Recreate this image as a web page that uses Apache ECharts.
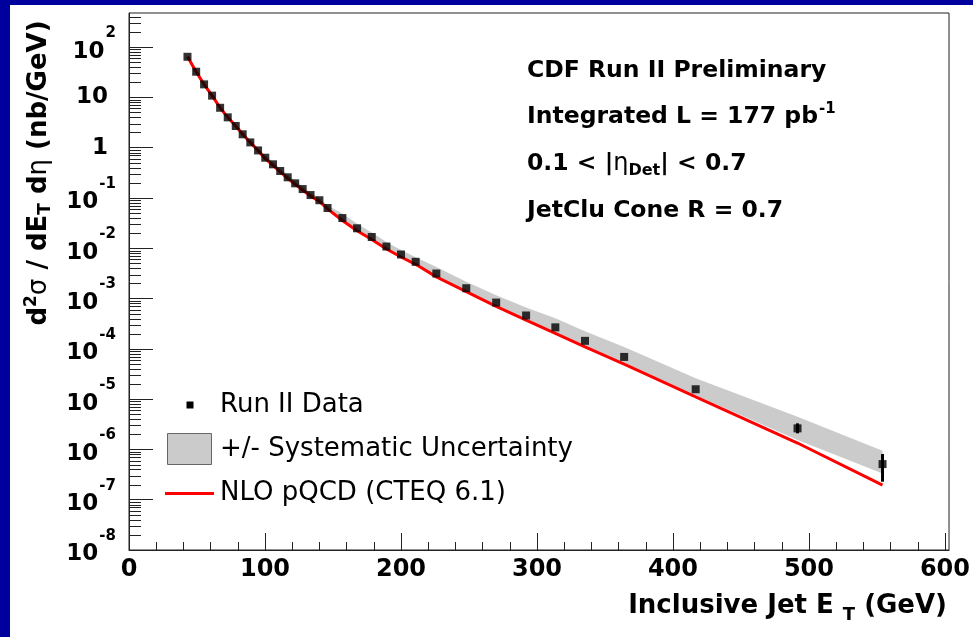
<!DOCTYPE html>
<html>
<head>
<meta charset="utf-8">
<script src="https://cdn.jsdelivr.net/npm/echarts@6/dist/echarts.min.js"></script>
<style>
  html, body { margin: 0; padding: 0; background: #fff; }
  #chart { position: absolute; left: 0; top: 0; width: 973px; height: 637px; }
  .band-top { position: absolute; left: 0; top: 0; width: 973px; height: 5px; background: #00009c; }
  .band-left { position: absolute; left: 0; top: 0; width: 10px; height: 637px; background: #00009c; }
</style>
</head>
<body>
<div id="chart"></div>
<div class="band-top"></div>
<div class="band-left"></div>
<script>
// jet E_T bin centres (GeV)
const jetEt = [43.0, 49.4, 55.2, 61.1, 67.0, 72.6, 78.5, 83.6, 89.2, 94.9,
  100.2, 105.9, 111.2, 116.7, 122.2, 127.7, 133.5, 140.0, 146.0, 156.9,
  167.7, 178.5, 189.3, 200.0, 210.8, 226.0, 248.0, 270.0, 292.0, 313.5,
  335.3, 364.1, 416.7, 491.6, 554.1]
// measured cross section (nb/GeV)
const dataXsec = [64, 32.3, 18.1, 10.8, 6.2, 4.0, 2.69, 1.84, 1.27, 0.88,
  0.63, 0.466, 0.343, 0.257, 0.195, 0.150, 0.114, 0.090, 0.063, 0.0398,
  0.0249, 0.0167, 0.0108, 0.0075, 0.00537, 0.00314, 0.00160, 8.3e-4, 4.6e-4, 2.67e-4,
  1.44e-4, 6.9e-5, 1.57e-5, 2.62e-6, 5.1e-7]
// NLO pQCD (CTEQ 6.1)
const nloXsec = [64, 32.3, 18.1, 10.8, 6.2, 4.0, 2.69, 1.84, 1.27, 0.88,
  0.602, 0.445, 0.328, 0.245, 0.186, 0.143, 0.109, 0.0855, 0.0605, 0.0355,
  0.0222, 0.0149, 0.00963, 0.00669, 0.00479, 0.00269, 0.00137, 7.0e-4, 3.71e-4, 2.03e-4,
  1.094e-4, 4.96e-5, 1.11e-5, 1.34e-6, 1.95e-7]
// systematic uncertainty band edges
const sysUp = [68.5, 34.6, 19.4, 11.6, 6.64, 4.28, 2.88, 1.97, 1.36, 0.942,
  0.706, 0.522, 0.385, 0.288, 0.219, 0.168, 0.128, 0.101, 0.0706, 0.0489,
  0.0306, 0.0205, 0.0133, 0.00922, 0.0066, 0.00425, 0.00216, 1.16e-3, 6.63e-4, 4.03e-4,
  2.24e-4, 1.09e-4, 2.60e-5, 4.46e-6, 9.38e-7]
const sysDown = [59.8, 30.2, 16.9, 10.1, 5.79, 3.73, 2.51, 1.72, 1.19, 0.822,
  0.588, 0.435, 0.320, 0.240, 0.182, 0.140, 0.106, 0.084, 0.0588, 0.0372,
  0.0232, 0.0156, 0.0101, 0.0070, 0.00501, 0.00286, 0.00146, 7.5e-4, 3.97e-4, 2.17e-4,
  1.17e-4, 5.32e-5, 1.19e-5, 1.53e-6, 3.33e-7]
// statistical error bars (only visible outside the marker at the last bins)
const statLow = [null, null, null, null, null, null, null, null, null, null,
  null, null, null, null, null, null, null, null, null, null,
  null, null, null, null, null, null, null, null, null, null,
  null, null, null, 2.09e-6, 2.28e-7]
const statHigh = [null, null, null, null, null, null, null, null, null, null,
  null, null, null, null, null, null, null, null, null, null,
  null, null, null, null, null, null, null, null, null, null,
  null, null, null, 3.3e-6, 8.1e-7]

const xMajorTicks = [0, 100, 200, 300, 400, 500, 600]
const yDecades = [-8, -7, -6, -5, -4, -3, -2, -1, 0, 1, 2]
const yMinorFactors = [2, 3, 4, 5, 6, 7, 8, 9]
const yTop = 475

const FONT = 'DejaVu Sans'
const lg = v => Math.log10(v)

// minor ticks: every 20 GeV, and 2..9 x 10^n on the log axis
const xMinorTicks = []
for (let v = 20; v < 603; v += 20) if (v % 100 !== 0) xMinorTicks.push(v)
const yMinorTicks = []
yDecades.forEach(d => {
  yMinorFactors.forEach(k => {
    const v = d + lg(k)
    if (v < lg(yTop)) yMinorTicks.push(v)
  })
})

const chart = echarts.init(document.getElementById('chart'))

const option = {
  animation: false,
  backgroundColor: '#fff',
  grid: {
    left: 129, right: 21, top: 13, bottom: 87,
    show: true, borderColor: '#222', borderWidth: 1, backgroundColor: 'transparent'
  },
  xAxis: [
    {
      type: 'value', min: 0, max: 603, position: 'bottom',
      axisLine: { show: true, onZero: false, lineStyle: { color: '#222', width: 1 } },
      axisTick: { show: true, inside: true, length: 17, customValues: xMajorTicks, lineStyle: { color: '#222' } },
      axisLabel: {
        customValues: xMajorTicks, margin: 8, color: '#000',
        fontFamily: FONT, fontWeight: 'bold', fontSize: 24, lineHeight: 24
      },
      splitLine: { show: false }
    },
    {
      type: 'value', min: 0, max: 603, position: 'bottom',
      axisLine: { show: false, onZero: false },
      axisTick: { show: true, inside: true, length: 8, customValues: xMinorTicks, lineStyle: { color: '#222' } },
      axisLabel: { show: false },
      splitLine: { show: false }
    }
  ],
  yAxis: {
    type: 'value', min: -8, max: lg(yTop), position: 'left',
    axisLine: { show: true, onZero: false, lineStyle: { color: '#222', width: 1 } },
    axisTick: { show: true, inside: true, length: 24, customValues: yDecades, lineStyle: { color: '#222' } },
    axisLabel: {
      customValues: yDecades, margin: 13, color: '#000',
      fontFamily: FONT, fontWeight: 'bold', fontSize: 23,
      formatter: v => {
        const e = Math.round(v)
        if (e === 0) return '{b|1}'
        if (e === 1) return '{b|10}'
        return '{e|10}{s|' + e + '}'
      },
      rich: {
        b: { fontFamily: FONT, fontWeight: 'bold', fontSize: 23, lineHeight: 23, padding: [0, 8, 0, 0] },
        e: { fontFamily: FONT, fontWeight: 'bold', fontSize: 23, lineHeight: 23, padding: [9, 0, 0, 0] },
        s: { fontFamily: FONT, fontWeight: 'bold', fontSize: 15, lineHeight: 15, padding: [0, 0, 28, 1] }
      }
    },
    splitLine: { show: false }
  },
  series: [
    {
      // systematic band
      type: 'custom',
      z: 1,
      data: jetEt.map((e, i) => [e, lg(sysUp[i]), lg(sysDown[i])]),
      renderItem: (params, api) => {
        if (params.dataIndex !== 0) return
        const up = jetEt.map((e, i) => api.coord([e, lg(sysUp[i])]))
        const down = jetEt.map((e, i) => api.coord([e, lg(sysDown[i])])).reverse()
        return {
          type: 'polygon',
          shape: { points: up.concat(down) },
          style: { fill: '#cbcbcb' }
        }
      }
    },
    {
      name: 'NLO pQCD (CTEQ 6.1)',
      type: 'line',
      z: 3,
      data: jetEt.map((e, i) => [e, lg(nloXsec[i])]),
      showSymbol: false,
      lineStyle: { color: '#ff0000', width: 3 }
    },
    {
      // stat error bars
      type: 'custom',
      z: 4,
      data: jetEt.map((e, i) => [e, statLow[i] ? lg(statLow[i]) : null, statHigh[i] ? lg(statHigh[i]) : null]),
      renderItem: (params, api) => {
        const i = params.dataIndex
        if (statLow[i] == null) return
        const a = api.coord([jetEt[i], lg(statLow[i])])
        const b = api.coord([jetEt[i], lg(statHigh[i])])
        return {
          type: 'line',
          shape: { x1: a[0], y1: a[1], x2: b[0], y2: b[1] },
          style: { stroke: '#000', lineWidth: 3 }
        }
      }
    },
    {
      name: 'Run II Data',
      type: 'scatter',
      z: 5,
      data: jetEt.map((e, i) => [e, lg(dataXsec[i])]),
      symbol: 'rect',
      symbolSize: 8,
      itemStyle: { color: '#000' }
    }
  ],
  graphic: [
    // y axis title
    {
      type: 'text', x: 39, y: 173, rotation: Math.PI / 2,
      style: {
        text: 'd{sup|2}{g|σ} / dE{sub|T} d{g|η} (nb/GeV)',
        font: 'bold 26px "DejaVu Sans"', fill: '#000',
        textAlign: 'center', textVerticalAlign: 'middle',
        rich: {
          sup: { fontFamily: FONT, fontWeight: 'bold', fontSize: 17, padding: [0, 0, 14, 0] },
          sub: { fontFamily: FONT, fontWeight: 'bold', fontSize: 17, padding: [14, 0, 0, 0] },
          g: { fontFamily: FONT, fontWeight: 'normal', fontSize: 26 }
        }
      }
    },
    // x axis title
    {
      type: 'text', x: 947, y: 606,
      style: {
        text: 'Inclusive Jet E {sub|T} (GeV)',
        font: 'bold 26px "DejaVu Sans"', fill: '#000',
        textAlign: 'right', textVerticalAlign: 'middle',
        rich: {
          sub: { fontFamily: FONT, fontWeight: 'bold', fontSize: 18, padding: [18, 0, 0, 0] }
        }
      }
    },
    // info block
    {
      type: 'text', x: 527, y: 71,
      style: { text: 'CDF Run II Preliminary', font: 'bold 23.5px "DejaVu Sans"', fill: '#000', textVerticalAlign: 'middle' }
    },
    {
      type: 'text', x: 527, y: 117,
      style: {
        text: 'Integrated L = 177 pb{sup|-1}', font: 'bold 23.5px "DejaVu Sans"', fill: '#000', textVerticalAlign: 'middle',
        rich: { sup: { fontFamily: FONT, fontWeight: 'bold', fontSize: 15, padding: [0, 0, 16, 1] } }
      }
    },
    {
      type: 'text', x: 527, y: 164,
      style: {
        text: '0.1 < |{g|η}{sub|Det}| < 0.7', font: 'bold 23.5px "DejaVu Sans"', fill: '#000', textVerticalAlign: 'middle',
        rich: {
          g: { fontFamily: FONT, fontWeight: 'normal', fontSize: 24 },
          sub: { fontFamily: FONT, fontWeight: 'bold', fontSize: 16, padding: [14, 0, 0, 0] }
        }
      }
    },
    {
      type: 'text', x: 527, y: 211,
      style: { text: 'JetClu Cone R = 0.7', font: 'bold 23.5px "DejaVu Sans"', fill: '#000', textVerticalAlign: 'middle' }
    },
    // legend
    { type: 'rect', shape: { x: 186.5, y: 401.5, width: 7, height: 7 }, style: { fill: '#000' } },
    {
      type: 'text', x: 220, y: 405,
      style: { text: 'Run II Data', font: '26px "DejaVu Sans"', fill: '#000', textVerticalAlign: 'middle' }
    },
    { type: 'rect', shape: { x: 167.5, y: 433.5, width: 44, height: 31 }, style: { fill: '#cbcbcb', stroke: '#666', lineWidth: 1 } },
    {
      type: 'text', x: 220, y: 449,
      style: { text: '+/- Systematic Uncertainty', font: '26px "DejaVu Sans"', fill: '#000', textVerticalAlign: 'middle' }
    },
    { type: 'line', shape: { x1: 165, y1: 493.5, x2: 214, y2: 493.5 }, style: { stroke: '#ff0000', lineWidth: 3 } },
    {
      type: 'text', x: 220, y: 493,
      style: { text: 'NLO pQCD (CTEQ 6.1)', font: '26px "DejaVu Sans"', fill: '#000', textVerticalAlign: 'middle' }
    }
  ]
}

chart.setOption(option)

// minor ticks of the log axis, placed through the grid's own conversion
chart.setOption({
  graphic: yMinorTicks.map((v, i) => {
    const p = chart.convertToPixel({ gridIndex: 0 }, [0, v])
    const y = Math.round(p[1]) + 0.5
    return {
      id: 'ymin' + i, type: 'line', silent: true, z: 10,
      shape: { x1: Math.round(p[0]), y1: y, x2: Math.round(p[0]) + 12, y2: y },
      style: { stroke: '#222', lineWidth: 1 }
    }
  })
})
</script>
</body>
</html>
